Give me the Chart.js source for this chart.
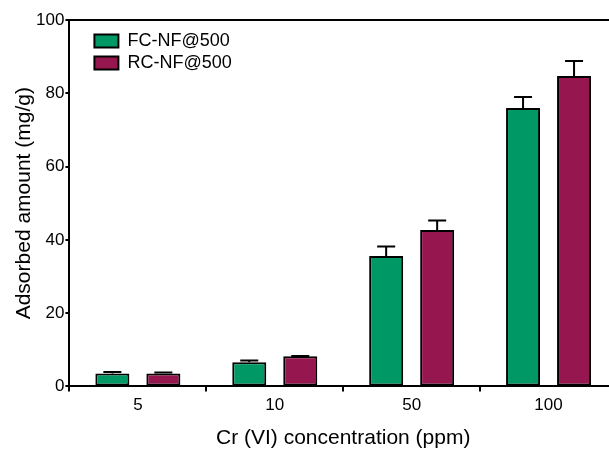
<!DOCTYPE html>
<html>
<head>
<meta charset="utf-8">
<script src="https://cdn.jsdelivr.net/npm/chart.js@4.4.1/dist/chart.umd.min.js"></script>
<style>
  html, body { margin: 0; padding: 0; background: #fff; overflow: hidden; }
  #wrap { width: 620px; height: 451px; position: relative; }
</style>
</head>
<body>
<div id="wrap"><canvas id="chartCanvas"></canvas></div>
<script>
// data
const categories = ['5', '10', '50', '100'];
const fcValues = [3.5, 6.6, 35.6, 76.0];
const fcErrors = [0.4, 0.5, 2.6, 3.0];
const rcValues = [3.5, 8.2, 42.7, 84.7];
const rcErrors = [0.3, 0.1, 2.6, 4.1];
const yTicks = [0, 20, 40, 60, 80, 100];

const FONT = 'Liberation Sans, Arial, sans-serif';

// error bars (upper side only), drawn from the bar elements + y scale
const errorBars = {
  id: 'errorBars',
  afterDatasetsDraw(chart) {
    const ctx = chart.ctx;
    const y = chart.scales.y;
    chart.data.datasets.forEach((ds, i) => {
      const meta = chart.getDatasetMeta(i);
      meta.data.forEach((bar, j) => {
        const top = y.getPixelForValue(ds.data[j] + ds.errors[j]);
        ctx.save();
        ctx.strokeStyle = '#000';
        ctx.lineWidth = 2;
        ctx.beginPath();
        ctx.moveTo(bar.x, bar.y);
        ctx.lineTo(bar.x, top);
        ctx.moveTo(bar.x - 9, top);
        ctx.lineTo(bar.x + 9, top);
        ctx.stroke();
        ctx.restore();
      });
    });
  }
};

// top frame line + nudge legend inside the plot
const frame = {
  id: 'frame',
  afterLayout(chart) {
    if (chart.legend) {
      chart.legend.left += 21;
      chart.legend.top += 28;
    }
  },
  beforeDatasetsDraw(chart) {
    const { ctx, chartArea } = chart;
    ctx.save();
    ctx.strokeStyle = '#000';
    ctx.lineWidth = 2;
    ctx.beginPath();
    ctx.moveTo(chartArea.left, chartArea.top);
    ctx.lineTo(chartArea.right, chartArea.top);
    ctx.stroke();
    ctx.restore();
  }
};

const ctx = document.getElementById('chartCanvas').getContext('2d');
new Chart(ctx, {
  type: 'bar',
  data: {
    labels: categories,
    datasets: [
      {
        label: 'FC-NF@500',
        data: fcValues,
        errors: fcErrors,
        backgroundColor: '#009966',
        borderColor: '#000',
        borderWidth: 2,
        borderSkipped: false
      },
      {
        label: 'RC-NF@500',
        data: rcValues,
        errors: rcErrors,
        backgroundColor: '#96174f',
        borderColor: '#000',
        borderWidth: 2,
        borderSkipped: false
      }
    ]
  },
  options: {
    responsive: true,
    maintainAspectRatio: false,
    animation: false,
    layout: { padding: { top: 20, right: 3, left: 13, bottom: 0 } },
    datasets: {
      bar: { categoryPercentage: 0.745, barPercentage: 0.667 }
    },
    plugins: {
      tooltip: { enabled: false },
      legend: {
        position: 'chartArea',
        align: 'start',
        labels: {
          boxWidth: 24,
          boxHeight: 13,
          padding: 4,
          color: '#000',
          font: { family: FONT, size: 18 }
        }
      }
    },
    scales: {
      x: {
        grid: { display: true, drawOnChartArea: false, drawTicks: true, tickLength: 5, color: '#000', lineWidth: 2 },
        border: { display: true, color: '#000', width: 2 },
        ticks: { color: '#000', font: { family: FONT, size: 17 }, padding: 4 },
        title: {
          display: true,
          text: 'Cr (VI) concentration (ppm)',
          color: '#000',
          font: { family: FONT, size: 21 },
          padding: { top: 6, bottom: 0 }
        }
      },
      y: {
        min: 0,
        max: 100,
        afterBuildTicks(axis) { axis.ticks = yTicks.map(v => ({ value: v })); },
        grid: { display: true, drawOnChartArea: false, drawTicks: true, tickLength: 4, color: '#000', lineWidth: 2 },
        border: { display: true, color: '#000', width: 2 },
        ticks: { color: '#000', font: { family: FONT, size: 17 }, padding: 1 },
        title: {
          display: true,
          text: 'Adsorbed amount (mg/g)',
          color: '#000',
          font: { family: FONT, size: 21, lineHeight: 1.05 },
          padding: { top: 0, bottom: 0 }
        }
      }
    }
  },
  plugins: [errorBars, frame]
});
</script>
</body>
</html>
